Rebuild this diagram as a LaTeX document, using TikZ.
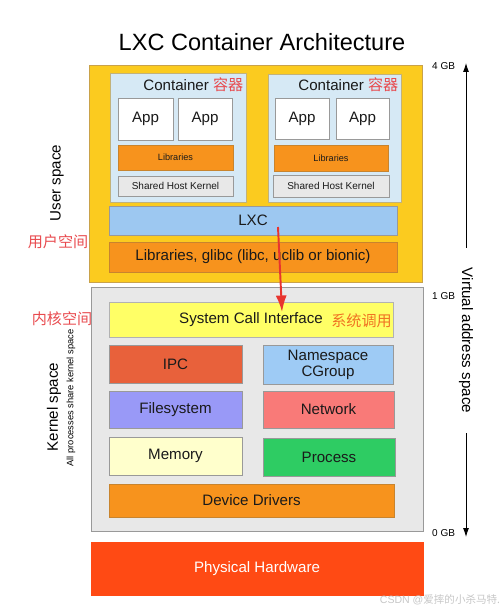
\documentclass[tikz,border=0pt]{standalone}
\usepackage{fontspec}
\setmainfont{Liberation Sans}
\newfontfamily\cjk{Noto Sans CJK SC}
\usetikzlibrary{arrows.meta}
\definecolor{userfill}{HTML}{FBCB1F}
\definecolor{userline}{HTML}{C9A24A}
\definecolor{contfill}{HTML}{D6E9F5}
\definecolor{contline}{HTML}{C2B27A}
\definecolor{libfill}{HTML}{F7931D}
\definecolor{libline}{HTML}{C8842E}
\definecolor{shfill}{HTML}{E8E8E8}
\definecolor{lxcfill}{HTML}{9DC8F1}
\definecolor{kernfill}{HTML}{E8E8E8}
\definecolor{scifill}{HTML}{FFFF66}
\definecolor{ipcfill}{HTML}{E8613B}
\definecolor{nsfill}{HTML}{9ECBF5}
\definecolor{fsfill}{HTML}{9999F7}
\definecolor{netfill}{HTML}{F97A78}
\definecolor{memfill}{HTML}{FFFFCC}
\definecolor{procfill}{HTML}{2ECC63}
\definecolor{hwfill}{HTML}{FF4A14}
\definecolor{cnred}{HTML}{E84A4E}
\definecolor{cnorange}{HTML}{F07222}
\definecolor{callred}{HTML}{E8342E}
\definecolor{inktext}{HTML}{1A1A1A}
\newcommand{\lbl}{\fontsize{8.6}{10}\selectfont}
\begin{document}
\begin{tikzpicture}[x=0.02cm,y=-0.02cm,
	sz/.style 2 args={minimum width={#1*0.02cm},minimum height={#2*0.02cm}},
	blk/.style={draw=gray!80,line width=0.4pt,inner sep=0pt,align=center,text=inktext,font=\lbl},
	cnlbl/.style={text=cnred,font=\cjk\lbl},
	gb/.style={font=\fontsize{5.7}{7}\selectfont,anchor=west},
	axis/.style={-{Latex[length=0.18cm,width=0.12cm]},line width=0.5pt}]
	\useasboundingbox (0,0) rectangle (499,611);
	\node (title) at (262,42) {\fontsize{13.4}{16}\selectfont LXC Container Architecture};
	\node (user) at (255.5,173.5) [blk,sz={333}{217},fill=userfill,draw=userline] {};
	\node (c1) at (178,137.5) [blk,sz={136}{129},fill=contfill,draw=contline] {};
	\node (c2) at (334.5,138) [blk,sz={133}{128},fill=contfill,draw=contline] {};
	\node (c1t) at (143,85) [anchor=west,inner sep=0pt,text=inktext,font=\lbl] {Container \textcolor{cnred}{\cjk 容器}};
	\node (c2t) at (298,85) [anchor=west,inner sep=0pt,text=inktext,font=\lbl] {Container \textcolor{cnred}{\cjk 容器}};
	\node (app1) at (145.5,119) [blk,sz={55}{42},fill=white] {App};
	\node (app2) at (205,119) [blk,sz={54}{42},fill=white] {App};
	\node (app3) at (302,118.5) [blk,sz={54}{41},fill=white] {App};
	\node (app4) at (362.5,118.5) [blk,sz={53}{41},fill=white] {App};
	\node (lib1) at (175.5,157.5) [blk,sz={115}{25},fill=libfill,draw=libline,font=\fontsize{5.2}{6}\selectfont] {Libraries};
	\node (lib2) at (331,158) [blk,sz={114}{26},fill=libfill,draw=libline,font=\fontsize{5.2}{6}\selectfont] {Libraries};
	\node (shk1) at (175.5,186) [blk,sz={115}{20},fill=shfill,font=\fontsize{5.7}{7}\selectfont] {Shared Host Kernel};
	\node (shk2) at (331,186) [blk,sz={116}{22},fill=shfill,font=\fontsize{5.7}{7}\selectfont] {Shared Host Kernel};
	\node (lxc) at (253,220.5) [blk,sz={288}{29},fill=lxcfill] {LXC};
	\node (glibc) at (253,257) [blk,sz={288}{30},fill=libfill,draw=libline] {Libraries, glibc (libc, uclib or bionic)};
	\node (kern) at (257,409) [blk,sz={332}{244},fill=kernfill] {};
	\node (sci) at (251,319.5) [blk,sz={284}{35},fill=scifill,draw=gray!60] {};
	\node (scit) at (251,320) [text=inktext,font=\lbl] {System Call Interface};
	\node (scicn) at (331,321) [anchor=west,inner sep=0pt,text=cnorange,font=\cjk\lbl] {系统调用};
	\node (ipc) at (175.5,364) [blk,sz={133}{38},fill=ipcfill] {IPC};
	\node (ns) at (328,364.5) [blk,sz={130}{39},fill=nsfill] {Namespace\\[-1pt]CGroup};
	\node (fs) at (175.5,409.5) [blk,sz={133}{37},fill=fsfill] {Filesystem};
	\node (net) at (328.5,409.5) [blk,sz={131}{37},fill=netfill] {Network};
	\node (mem) at (175.5,456) [blk,sz={133}{38},fill=memfill] {Memory};
	\node (proc) at (329,457) [blk,sz={132}{38},fill=procfill] {Process};
	\node (dd) at (251.5,500.5) [blk,sz={285}{33},fill=libfill,draw=libline] {Device Drivers};
	\node (hw) at (257,568.5) [blk,sz={332}{53},fill=hwfill,draw=hwfill,text=white] {Physical Hardware};
	\node (uspace) at (57,183) [rotate=90,font=\lbl] {User space};
	\node (uspacecn) at (58,242) [cnlbl] {用户空间};
	\node (kspacecn) at (62,319) [cnlbl] {内核空间};
	\node (kspace) at (54,407) [rotate=90,font=\lbl] {Kernel space};
	\node (kshare) at (71,398) [rotate=90,font=\fontsize{5.3}{6}\selectfont] {All processes share kernel space};
	\node (gb4) at (426,66) [gb] {4 GB};
	\node (gb1) at (426,296) [gb] {1 GB};
	\node (gb0) at (426,533) [gb] {0 GB};
	\node (vas) at (466,340.5) [rotate=-90,inner xsep=0.4cm,font=\lbl] {Virtual address space};
	\coordinate (vtop) at (466,63);
	\coordinate (vbot) at (466,537);
	\draw[axis] (vas.west) -- (vtop);
	\draw[axis] (vas.east) -- (vbot);
	\coordinate (callfrom) at (278,227);
	\coordinate (callto) at (282,312);
	\draw[-{Latex[length=0.33cm,width=0.22cm]},line width=1.1pt,callred] (callfrom) -- (callto);
	\node (mark) at (440,600) [text=gray!45,font=\fontsize{6}{7}\selectfont] {CSDN @\cjk 爱摔的小杀马特.};
\end{tikzpicture}
\end{document}
